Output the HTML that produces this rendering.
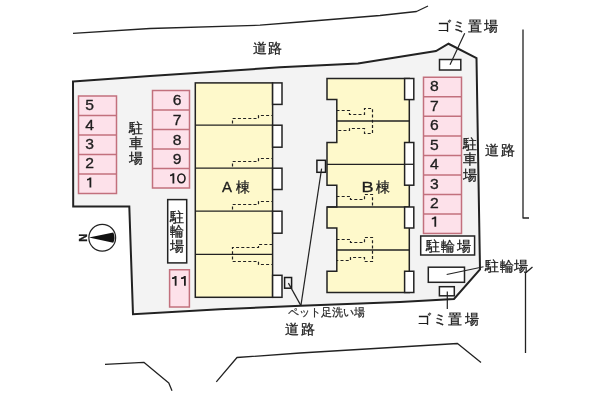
<!DOCTYPE html>
<html><head><meta charset="utf-8"><style>
html,body{margin:0;padding:0;background:#fff;width:600px;height:400px;overflow:hidden}
svg{display:block;will-change:transform}
text{font-family:"Liberation Sans",sans-serif;fill:#1e1e1e}
</style></head><body>
<svg width="600" height="400" viewBox="0 0 600 400">
<!-- roads -->
<g fill="none" stroke="#222" stroke-width="1.3" stroke-linejoin="round">
<polyline points="73,33.3 150,28.5 260,25.2 300,22 380,15.5 416.5,11.5 428,6"/>
<polyline points="523,29.5 523,218 529,218"/>
<polyline points="532.5,267 525.5,273 525.5,353"/>
<polyline points="105,364.3 143.8,362.3 168.8,383 172,390.8"/>
<polyline points="216.3,381.8 237,357.5 300,353 457.5,343.5 481,362.5"/>
</g>
<!-- lot -->
<polygon points="73,81.5 150,76 280,67.3 358,63.4 436,51 448.5,43.75 476.5,58 480,269.5 454,299 400,302 300.9,305.7 220,309.2 133,314.3 129.3,206.5 73.2,206.5" fill="#f3f3f3" stroke="#222" stroke-width="2" stroke-linejoin="miter"/>

<!-- parking -->
<g fill="#fde1ea" stroke="#c2707d" stroke-width="1.5">
<rect x="78.5" y="96" width="38" height="97.5"/>
<rect x="152.5" y="90.5" width="37" height="97.5"/>
<rect x="423.5" y="77.25" width="38" height="156.2"/>
<rect x="169.6" y="269.75" width="19.8" height="37.25"/>
</g>
<g stroke="#c2707d" stroke-width="1.5">
<line x1="78.5" x2="116.5" y1="115.5" y2="115.5"/>
<line x1="78.5" x2="116.5" y1="135" y2="135"/>
<line x1="78.5" x2="116.5" y1="154.5" y2="154.5"/>
<line x1="78.5" x2="116.5" y1="174" y2="174"/>
<line x1="152.5" x2="189.5" y1="110" y2="110"/>
<line x1="152.5" x2="189.5" y1="129.5" y2="129.5"/>
<line x1="152.5" x2="189.5" y1="149" y2="149"/>
<line x1="152.5" x2="189.5" y1="168.5" y2="168.5"/>
<line x1="423.5" x2="461.5" y1="96.8" y2="96.8"/>
<line x1="423.5" x2="461.5" y1="116.3" y2="116.3"/>
<line x1="423.5" x2="461.5" y1="135.9" y2="135.9"/>
<line x1="423.5" x2="461.5" y1="155.4" y2="155.4"/>
<line x1="423.5" x2="461.5" y1="175" y2="175"/>
<line x1="423.5" x2="461.5" y1="194.5" y2="194.5"/>
<line x1="423.5" x2="461.5" y1="214" y2="214"/>
</g>
<g font-size="14" stroke="#1e1e1e" stroke-width="0.3">
<text transform="translate(85.3,110) scale(1.12,1)">5</text>
<text transform="translate(85.3,129.6) scale(1.12,1)">4</text>
<text transform="translate(85.3,149.1) scale(1.12,1)">3</text>
<text transform="translate(85.3,168) scale(1.12,1)">2</text>

<text transform="translate(172.8,105.3) scale(1.12,1)">6</text>
<text transform="translate(172.8,125) scale(1.12,1)">7</text>
<text transform="translate(172.8,144.5) scale(1.12,1)">8</text>
<text transform="translate(172.8,164) scale(1.12,1)">9</text>

<text transform="translate(429.9,91.25) scale(1.12,1)">8</text>
<text transform="translate(429.9,110.7) scale(1.12,1)">7</text>
<text transform="translate(429.9,130.2) scale(1.12,1)">6</text>
<text transform="translate(429.9,149.7) scale(1.12,1)">5</text>
<text transform="translate(429.9,169.3) scale(1.12,1)">4</text>
<text transform="translate(429.9,188.8) scale(1.12,1)">3</text>
<text transform="translate(429.9,208.4) scale(1.12,1)">2</text>


</g>

<path d="M91.3,177.4 L91.3,187.5 L89.50,187.5 L89.50,179.80 Q88.70,180.50 87,180.50 L87,179.00 Q88.90,178.60 89.70,177.4 Z M174.3,173.2 L174.3,183.5 L172.50,183.5 L172.50,175.60 Q171.70,176.30 170,176.30 L170,174.80 Q171.90,174.40 172.70,173.2 Z M436.2,216.4 L436.2,226.7 L434.40,226.7 L434.40,218.80 Q433.60,219.50 431.8,219.50 L431.8,218.00 Q433.80,217.60 434.60,216.4 Z M176.55,276 L176.55,285.7 L174.75,285.7 L174.75,278.40 Q173.95,279.10 172,279.10 L172,277.60 Q174.15,277.20 174.95,276 Z M185.8,276 L185.8,285.7 L184.00,285.7 L184.00,278.40 Q183.20,279.10 181,279.10 L181,277.60 Q183.40,277.20 184.20,276 Z" fill="#1e1e1e"/>
<ellipse cx="181.4" cy="178.35" rx="3.6" ry="4.35" fill="none" stroke="#1e1e1e" stroke-width="1.6"/>

<!-- building A -->
<rect x="195.3" y="82.9" width="77.3" height="214.4" fill="#fef9cb" stroke="#222" stroke-width="1.5"/>
<g stroke="#222" stroke-width="1.3">
<line x1="195.3" x2="272.6" y1="125.2" y2="125.2"/>
<line x1="195.3" x2="272.6" y1="168.2" y2="168.2"/>
<line x1="195.3" x2="272.6" y1="211.2" y2="211.2"/>
<line x1="195.3" x2="272.6" y1="254.4" y2="254.4"/>
</g>
<g fill="#fff" stroke="#222" stroke-width="1.5">
<rect x="272.6" y="82.9" width="9.4" height="21.5"/>
<rect x="272.6" y="125.2" width="9.4" height="22"/>
<rect x="272.6" y="168.2" width="9.4" height="21.3"/>
<rect x="272.6" y="211.2" width="9.4" height="22"/>
<rect x="272.6" y="275.3" width="9.4" height="22"/>
</g>
<g fill="none" stroke="#222" stroke-width="1.2" stroke-dasharray="3,2.2" stroke-linecap="butt">
<polyline points="232.5,123.5 232.5,118.5 258.5,118.5 258.5,115.5 272.5,115.5"/>
<polyline points="232.5,166.5 232.5,161.5 258.5,161.5 258.5,158.5 272.5,158.5"/>
<polyline points="232.5,209.5 232.5,204.5 258.5,204.5 258.5,201.5 272.5,201.5"/>
<polyline points="272.5,244.5 258.5,244.5 258.5,247.5 232.5,247.5 232.5,261.5 258.5,261.5 258.5,264.5 272.5,264.5"/>
</g>

<!-- building B -->
<path d="M327,78.5 H409.3 V292.5 H327 V271.25 H336.8 V228 H327 V207 H336.8 V185.2 H327 V142.5 H336.8 V99.6 H327 Z" fill="#fef9cb" stroke="#222" stroke-width="1.5"/>
<g stroke="#222" stroke-width="1.3">
<line x1="336.8" x2="409.3" y1="121" y2="121"/>
<line x1="327" x2="413.8" y1="164.3" y2="164.3"/>
<line x1="327" x2="409.3" y1="207" y2="207"/>
<line x1="336.8" x2="409.3" y1="250" y2="250"/>
</g>
<g fill="#fff" stroke="#222" stroke-width="1.5">
<rect x="404.6" y="78.5" width="9.2" height="21.1"/>
<rect x="404.6" y="142.5" width="9.2" height="42.7"/>
<rect x="404.6" y="207" width="9.2" height="21"/>
<rect x="404.6" y="271.25" width="9.2" height="21.25"/>
</g>
<line x1="404.6" x2="413.8" y1="164.3" y2="164.3" stroke="#222" stroke-width="1.3"/>
<g fill="none" stroke="#222" stroke-width="1.2" stroke-dasharray="3,2.2" stroke-linecap="butt">
<polyline points="336.5,110.5 349.5,110.5 349.5,114.5 364.5,114.5 364.5,108.5 372.5,108.5 372.5,133.5 364.5,133.5 364.5,128.5 349.5,128.5 349.5,130.5 336.5,130.5"/>
<polyline points="336.5,196.5 350.5,196.5 350.5,199.5 364.5,199.5 364.5,194.5 372.5,194.5 372.5,206.5"/>
<polyline points="336.5,239.5 350.5,239.5 350.5,242.5 364.5,242.5 364.5,237.5 372.5,237.5 372.5,261.5 364.5,261.5 364.5,257.5 350.5,257.5 350.5,260.5 336.5,260.5"/>
</g>

<!-- misc boxes -->
<g fill="#f3f3f3" stroke="#1a1a1a" stroke-width="1.5">
<rect x="284.6" y="277.5" width="7" height="10.7"/>
<rect x="316.9" y="160.3" width="8.6" height="12"/>
</g>

<g fill="#fff" stroke="#222" stroke-width="1.5">
<rect x="439.5" y="59.5" width="21.3" height="10.5"/>
<rect x="420.7" y="236" width="53.9" height="19"/>
<rect x="428.3" y="267.2" width="36.2" height="15.1"/>
<rect x="439.4" y="286.7" width="14.9" height="9.1"/>
<rect x="167.7" y="199.6" width="19" height="63.3"/>
</g>
<g stroke="#222" stroke-width="1.2" fill="none">
<line x1="288.4" y1="283.1" x2="300.9" y2="305.6"/>
<line x1="321.6" y1="168.7" x2="300.9" y2="305.6"/>
<line x1="450" y1="64.75" x2="464.7" y2="33.25"/>
<line x1="446.7" y1="274.5" x2="483.5" y2="266.75"/>
<line x1="447.3" y1="291.4" x2="447.3" y2="308.9"/>
</g>

<!-- compass -->
<circle cx="102.25" cy="237.75" r="13.4" fill="#fff" stroke="#222" stroke-width="1.2"/>
<path d="M88.9,237.5 L113.3,232.4 A12.2,12.2 0 0 1 113.3,242.8 Z" fill="#111"/>
<text x="0" y="0" font-size="11" font-weight="bold" stroke="#111" stroke-width="0.3" transform="translate(83.3,237.8) rotate(-90)" text-anchor="middle" dominant-baseline="central">N</text>

<!-- labels -->
<g font-size="14" stroke="#1e1e1e" stroke-width="0.3">
<text x="252.6" y="52.7">道</text>
<text x="267.9" y="52.7">路</text>
<text x="484.9" y="155.2">道</text>
<text x="500.6" y="155.2">路</text>
<text x="284.9" y="334.4">道</text>
<text x="300.8" y="334.4">路</text>
<text x="129.3" y="133">駐</text>
<text x="129.3" y="148.2">車</text>
<text x="129.3" y="163.4">場</text>
<text x="462.5" y="149.3">駐</text>
<text x="462.5" y="164.4">車</text>
<text x="462.5" y="179.5">場</text>
<text x="169.8" y="221.8">駐</text>
<text x="169.8" y="236.1">輪</text>
<text x="169.8" y="250.5">場</text>
<text x="425.6" y="250.7">駐</text>
<text x="441" y="250.7">輪</text>
<text x="456.5" y="250.7">場</text>
<text x="484.6" y="271.4">駐</text>
<text x="499.5" y="271.4">輪</text>
<text x="514.4" y="271.4">場</text>
<text x="235.9" y="191.8">棟</text>
<text x="376.2" y="191.8">棟</text>
<text x="436.9" y="31.2">ゴ</text>
<text x="451.9" y="31.2">ミ</text>
<text x="467.7" y="31.2">置</text>
<text x="483.7" y="31.2">場</text>
<text x="416.9" y="324.2">ゴ</text>
<text x="432.8" y="324.2">ミ</text>
<text x="448.1" y="324.2">置</text>
<text x="464.6" y="324.2">場</text>
<text transform="translate(222,192.2) scale(1.07,1)">A</text>
<text transform="translate(361.6,192.2) scale(1.3,1)">B</text>
</g>
<text x="287.8" y="315.9" font-size="11" stroke="#1e1e1e" stroke-width="0.2">ペット足洗い場</text>
</svg>
</body></html>
